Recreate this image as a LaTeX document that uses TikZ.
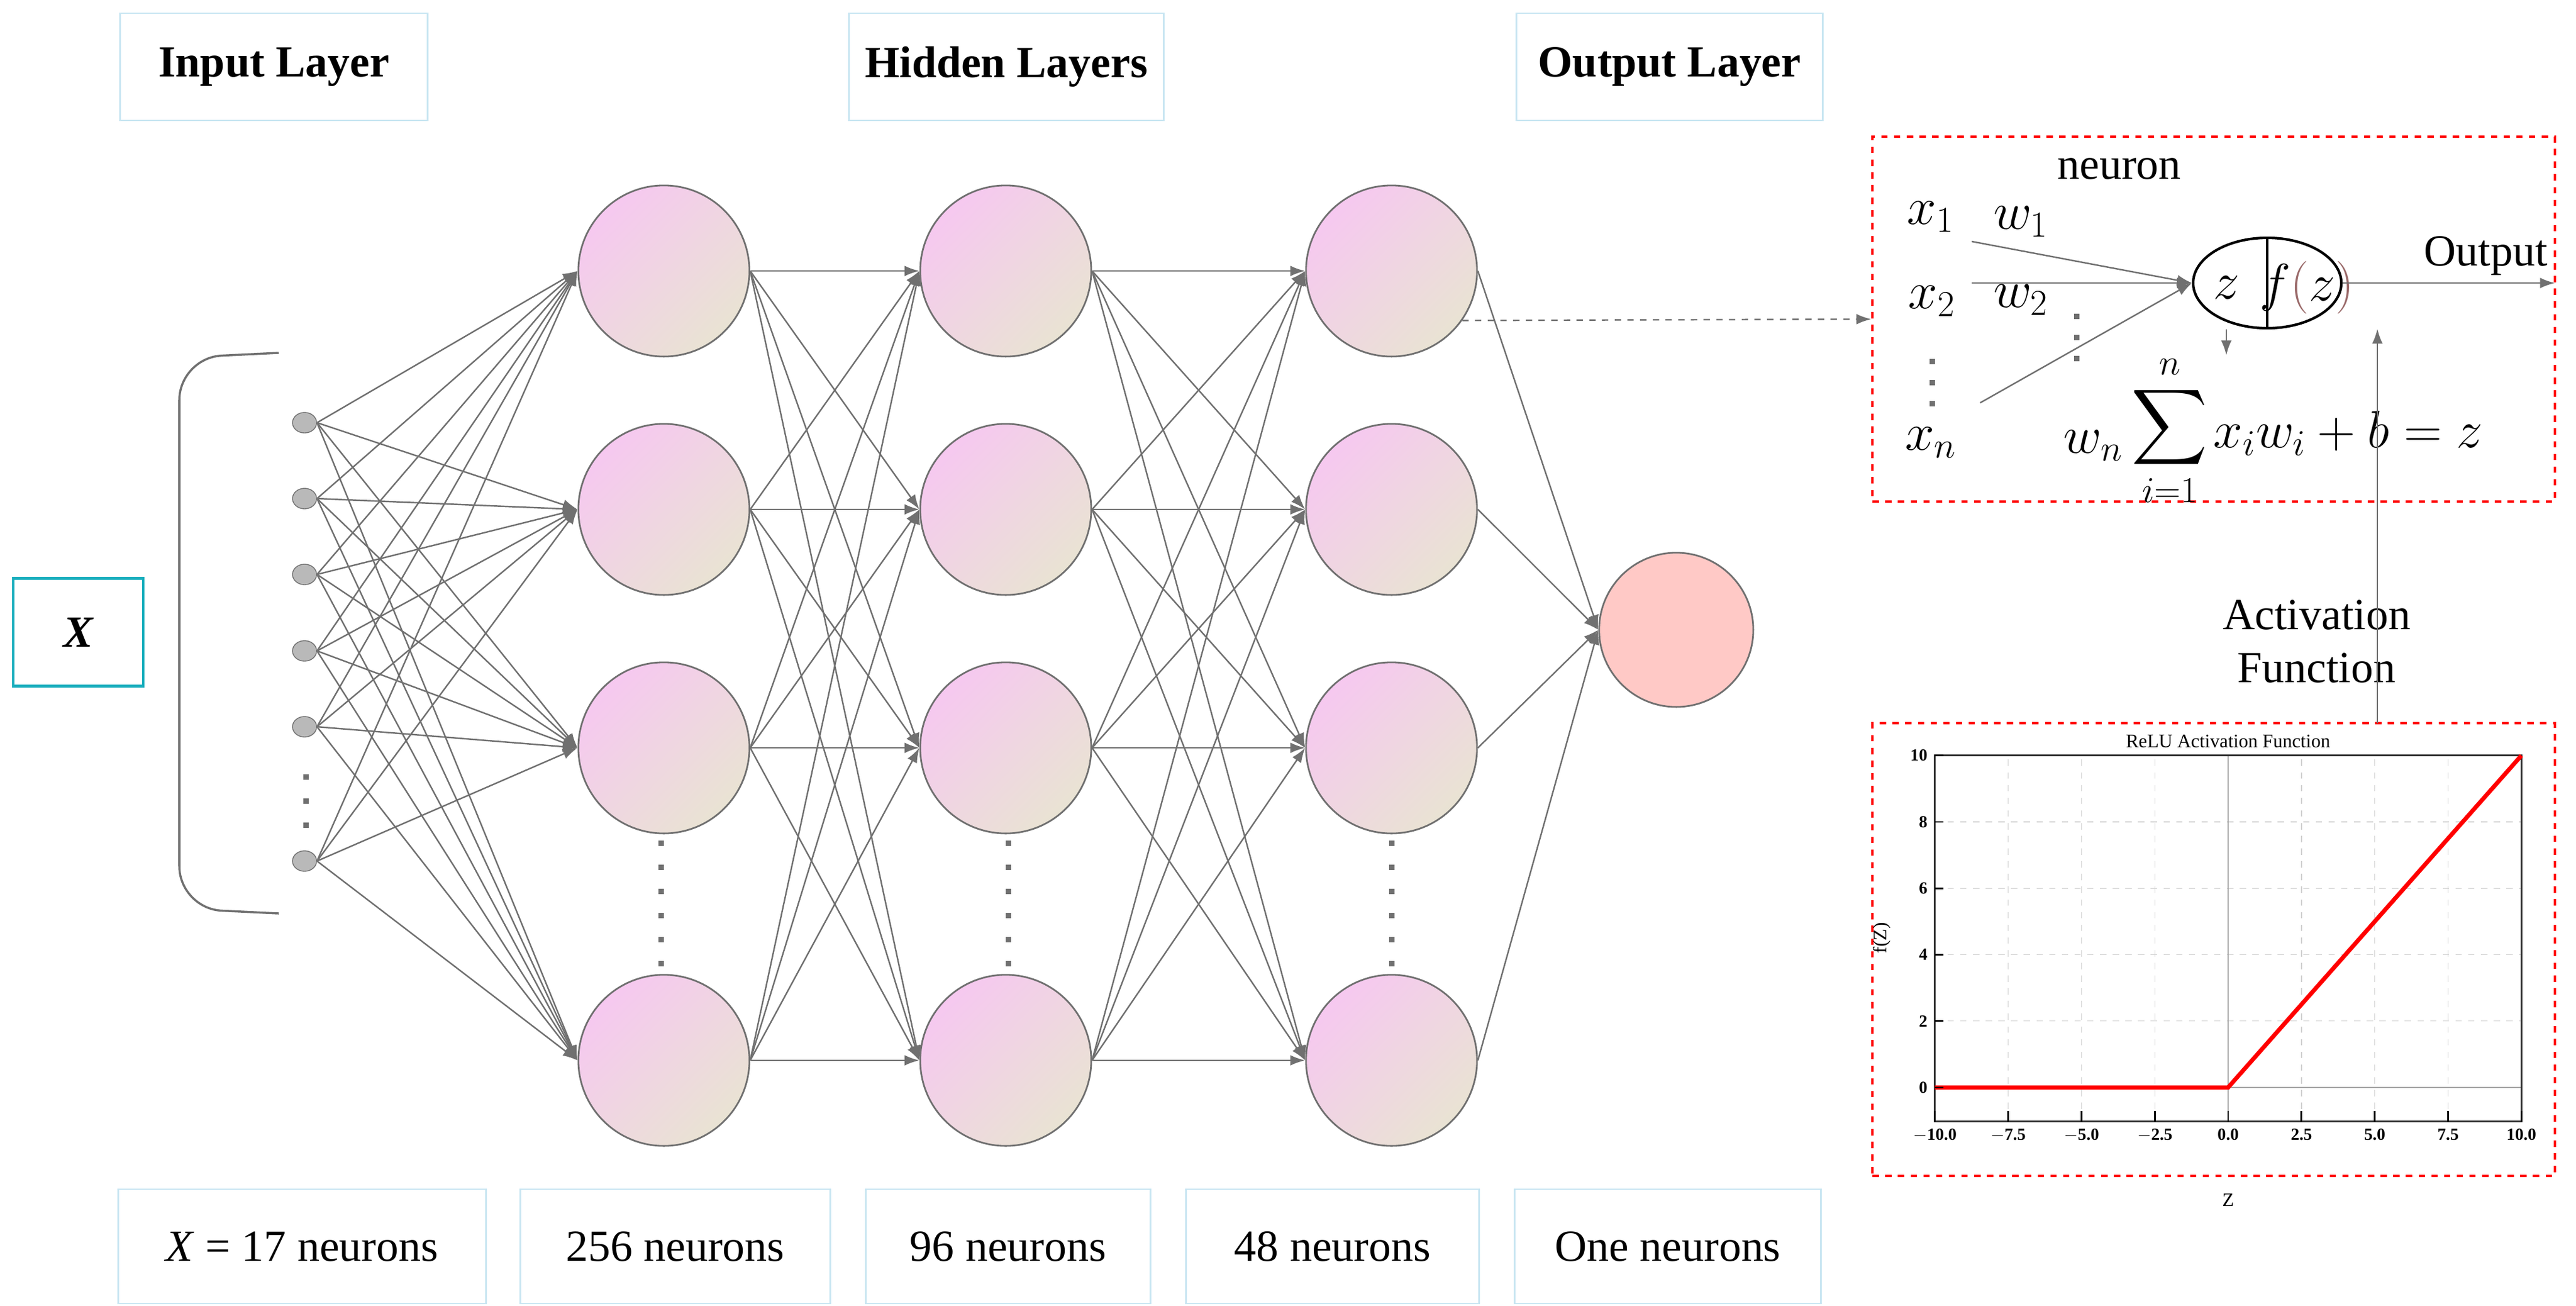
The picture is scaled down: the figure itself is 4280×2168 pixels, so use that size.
\documentclass[tikz,border=0pt]{standalone}
\usepackage{fontspec}
\setmainfont{Liberation Serif}
\usepackage{amsmath}
\usetikzlibrary{arrows.meta, positioning, shapes.geometric}
\definecolor{edgegray}{HTML}{707070}
\definecolor{boxblue}{HTML}{C9E6F2}
\definecolor{tealbox}{HTML}{1AAEBD}
\definecolor{nodepink}{HTML}{F6C8F0}
\definecolor{nodebeige}{HTML}{E9E3D3}
\definecolor{outpink}{HTML}{FFC9C6}
\definecolor{parenbrown}{HTML}{9A6A6A}
\newcommand{\lblfont}{\fontsize{21}{25}\selectfont}
\newcommand{\plotfont}{\fontsize{8}{9}\selectfont}

\begin{document}
\begin{tikzpicture}[x=0.01cm, y=-0.01cm,
	lbox/.style={draw=boxblue, line width=0.8pt, font=\lblfont},
	hidden/.style={circle, draw=edgegray, line width=0.8pt, minimum size=2.84cm,
		top color=nodepink, bottom color=nodebeige, shading angle=45},
	inp/.style={ellipse, draw=edgegray, fill=gray!55, minimum width=0.4cm, minimum height=0.34cm, inner sep=0pt},
	conn/.style={draw=edgegray, line width=0.7pt, -{Latex[length=7pt,width=5pt]}},
	reddash/.style={draw=red, dashed, line width=1.2pt},
	dot/.style={fill=edgegray, minimum size=0.09cm, inner sep=0pt}]
	\useasboundingbox (0,0) rectangle (4280,2168);
	% Layer titles
	\node[lbox, font=\lblfont\bfseries, minimum width=5.1cm, minimum height=1.78cm] (tin) at (455,111) {Input Layer};
	\node[lbox, font=\lblfont\bfseries, minimum width=5.22cm, minimum height=1.78cm] (thid) at (1672,111) {Hidden Layers};
	\node[lbox, font=\lblfont\bfseries, minimum width=5.08cm, minimum height=1.78cm] (tout) at (2774,111) {Output Layer};
	% Neuron counts
	\node[lbox, minimum width=6.11cm, minimum height=1.9cm] (cin) at (502,2070) {\textit{X} = 17 neurons};
	\node[lbox, minimum width=5.14cm, minimum height=1.9cm] (ca) at (1122,2070) {256 neurons};
	\node[lbox, minimum width=4.72cm, minimum height=1.9cm] (cb) at (1675,2070) {96 neurons};
	\node[lbox, minimum width=4.86cm, minimum height=1.9cm] (cc) at (2214,2070) {48 neurons};
	\node[lbox, minimum width=5.08cm, minimum height=1.9cm] (cout) at (2771,2070) {One neurons};
	% Input vector
	\node[draw=tealbox, line width=1.2pt, minimum width=2.16cm, minimum height=1.79cm, font=\lblfont\bfseries\itshape] (xbox) at (130,1050) {X};
	\draw[edgegray, line width=1pt, rounded corners=20] (463,586) -- (298,594) -- (298,1509) -- (463,1517);
	\foreach \y [count=\i] in {702,828,954,1081,1207,1430}
		\node[inp] (in\i) at (506,\y) {};
	% Hidden and output neurons
	\foreach \y [count=\j] in {450,846,1242,1761} {
		\node[hidden] (ha\j) at (1103,\y) {};
		\node[hidden] (hb\j) at (1671,\y) {};
		\node[hidden] (hc\j) at (2312,\y) {};
	}
	\node[circle, draw=edgegray, line width=0.8pt, fill=outpink, minimum size=2.56cm] (out) at (2785,1046) {};
	% Vertical dots
	\foreach \y in {1290,1330,1370}
		\node[dot] at (508,\y) {};
	\foreach \x in {1098,1675,2312}
		\foreach \y in {1400,1440,...,1600}
			\node[dot] at (\x,\y) {};
	% Connections
	\foreach \i in {1,...,6}
		\foreach \j in {1,...,4}
			\draw[conn] (in\i.east) -- (ha\j.west);
	\foreach \i in {1,...,4}
		\foreach \j in {1,...,4} {
			\draw[conn] (ha\i.east) -- (hb\j.west);
			\draw[conn] (hb\i.east) -- (hc\j.west);
		}
	\foreach \i in {1,...,4}
		\draw[conn] (hc\i.east) -- (out.west);
	% Single neuron detail
	\node[reddash, minimum width=11.33cm, minimum height=6.06cm] (nbox) at (3678,530) {};
	\draw[edgegray, dashed, line width=0.7pt, -{Latex[length=7pt,width=5pt]}] (hc1.-35) -- (nbox.west);
	\node[ellipse, draw=black, line width=1.2pt, minimum width=2.46cm, minimum height=1.5cm] (cell) at (3767,470) {};
	\draw[line width=1pt] (cell.north) -- (cell.south);
	\node[font=\fontsize{24}{28}\selectfont] (zval) at (3699,478) {$z$};
	\node[font=\fontsize{24}{28}\selectfont] (fval) at (3833,478) {$f\textcolor{parenbrown}{(}z\textcolor{parenbrown}{)}$};
	\coordinate (x1e) at (3276,401);
	\coordinate (x2e) at (3276,470);
	\coordinate (xne) at (3290,669);
	\coordinate (oute) at (4245,470);
	\draw[conn] (x1e) -- (cell.west);
	\draw[conn] (x2e) -- (cell.west);
	\draw[conn] (xne) -- (cell.west);
	\draw[conn] (cell.east) -- (oute);
	\node[font=\lblfont] (otxt) at (4130,425) {Output};
	\node[font=\lblfont] (ntxt) at (3521,280) {neuron};
	\node[font=\fontsize{24}{28}\selectfont] (x1) at (3208,360) {$x_1$};
	\node[font=\fontsize{24}{28}\selectfont] (w1) at (3358,368) {$w_1$};
	\node[font=\fontsize{24}{28}\selectfont] (x2) at (3210,500) {$x_2$};
	\node[font=\fontsize{24}{28}\selectfont] (w2) at (3358,498) {$w_2$};
	\node[font=\fontsize{24}{28}\selectfont] (xn) at (3208,735) {$x_n$};
	\node[font=\fontsize{24}{28}\selectfont] (wn) at (3478,740) {$w_n$};
	\foreach \y in {600,635,670}
		\node[dot] at (3210,\y) {};
	\foreach \y in {525,560,595}
		\node[dot] at (3450,\y) {};
	\node[font=\fontsize{24}{28}\selectfont] (sum) at (3605,715) {$\displaystyle\sum_{i=1}^{n}$};
	\node[font=\fontsize{24}{28}\selectfont, anchor=west] (eqn) at (3665,720) {$x_iw_i+b=z$};
	\coordinate (zdown) at (3699,590);
	\draw[conn] (cell.south -| zval) -- (zdown);
	% Activation function
	\node[font=\lblfont, align=center] (atxt) at (3849,1065) {Activation\\Function};
	\node[reddash, minimum width=11.33cm, minimum height=7.51cm] (rbox) at (3678,1577) {};
	\coordinate (actbase) at (3950,1201);
	\coordinate (acttip) at (3950,546);
	\draw[conn] (actbase) -- (acttip);
	\begin{scope}[shift={(3702,1806)}, x=0.487cm, y=0.551cm]
		\foreach \x in {-7.5,-5,-2.5,2.5,5,7.5}
			\draw[gray!35, dashed, line width=0.4pt] (\x,-1.03) -- (\x,10);
		\foreach \y in {2,4,6,8}
			\draw[gray!35, dashed, line width=0.4pt] (-10,\y) -- (10,\y);
		\draw[gray!70, line width=0.5pt] (0,-1.03) -- (0,10);
		\draw[gray!70, line width=0.8pt] (-10,0) -- (10,0);
		\draw[black!80, line width=0.8pt] (-10,-1.03) rectangle (10,10);
		\draw[red, line width=2pt] (-10,0) -- (0,0) -- (10,10);
		\foreach \x/\l in {-10/$-$10.0,-7.5/$-$7.5,-5/$-$5.0,-2.5/$-$2.5,0/0.0,2.5/2.5,5/5.0,7.5/7.5,10/10.0} {
			\draw[line width=0.8pt] (\x,-1.03) -- (\x,-0.7);
			\node[font=\plotfont\bfseries, below] at (\x,-1.03) {\l};
		}
		\foreach \y in {0,2,...,10} {
			\draw[line width=0.8pt] (-10,\y) -- (-9.7,\y);
			\node[font=\plotfont\bfseries, left] at (-10,\y) {\y};
		}
		\node[font=\fontsize{9}{10}\selectfont, above] (rtitle) at (0,10) {ReLU Activation Function};
		\node[font=\fontsize{9}{10}\selectfont] (zlab) at (0,-3.4) {Z};
		\node[font=\fontsize{9}{10}\selectfont, rotate=90] (flab) at (-11.8,4.5) {f(Z)};
	\end{scope}
\end{tikzpicture}
\end{document}
